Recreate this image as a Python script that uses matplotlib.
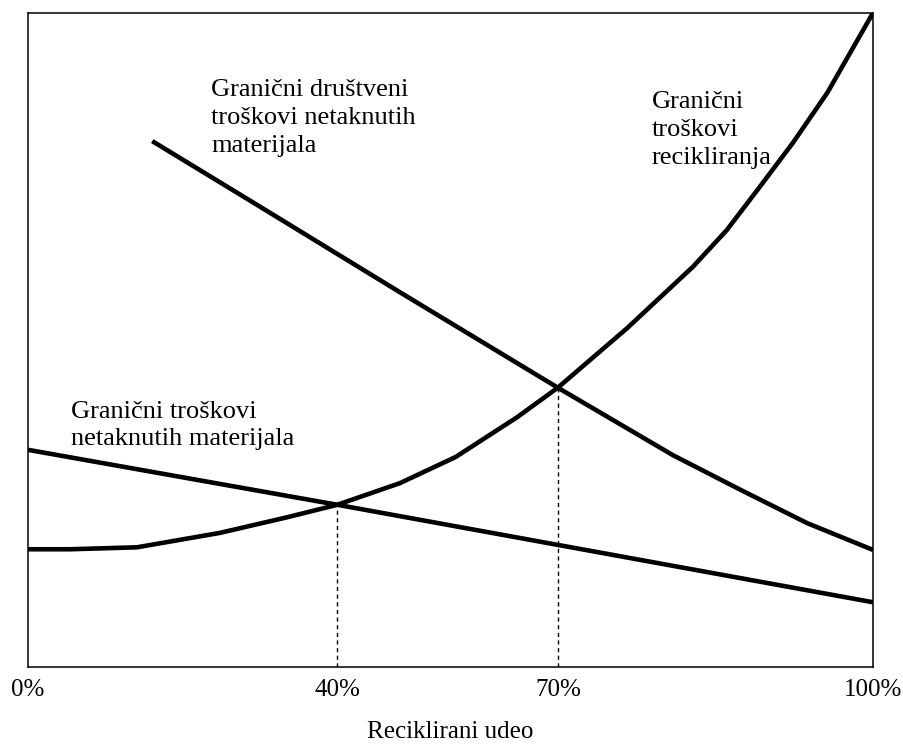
import matplotlib.pyplot as plt

# x positions as placed on the drawing (axis runs 0..100), y in same units
tick_pos = [0, 36.6, 62.7, 100]
tick_labels = ['0%', '40%', '70%', '100%']

# marginal recycling cost (rising curve)
rec_x = [0, 5.0, 12.9, 22.7, 30.7, 36.6, 44.0, 50.6, 57.9, 62.7, 70.9, 78.7, 82.7, 86.6, 90.5, 94.6, 100]
rec_y = [18.0, 18.0, 18.3, 20.5, 22.9, 24.8, 28.1, 32.1, 38.2, 42.7, 51.8, 61.2, 66.8, 73.4, 80.1, 87.8, 100]

# marginal social cost of virgin materials
soc_x = [14.7, 27.8, 44.0, 62.7, 76.3, 84.3, 92.2, 100]
soc_y = [80.4, 70.1, 57.3, 42.7, 32.4, 27.1, 22.0, 17.9]

# marginal private cost of virgin materials
priv_x = [0, 36.6, 100]
priv_y = [33.2, 24.8, 9.9]

# intersections (dashed guides)
cross_x = [36.6, 62.7]
cross_y = [24.8, 42.7]

plt.rcParams['font.family'] = ['Liberation Serif', 'DejaVu Serif']

fig = plt.figure(figsize=(9.04, 7.45), dpi=100)
ax = fig.add_axes([0.031, 0.1047, 0.9347, 0.878])

ax.plot(rec_x, rec_y, color='black', lw=3.3, solid_capstyle='butt', solid_joinstyle='round')
ax.plot(soc_x, soc_y, color='black', lw=3.3, solid_capstyle='butt', solid_joinstyle='round')
ax.plot(priv_x, priv_y, color='black', lw=3.3, solid_capstyle='butt')

for cx, cy in zip(cross_x, cross_y):
    ax.plot([cx, cx], [0, cy], color='black', lw=1.0, ls=(0, (3, 2.5)))

ax.text(21.7, 83.9, 'Granični društveni\ntroškovi netaknutih\nmaterijala',
        fontsize=19, va='center', ha='left', linespacing=1.34)
ax.text(73.8, 82.1, 'Granični\ntroškovi\nrecikliranja',
        fontsize=19, va='center', ha='left', linespacing=1.38)
ax.text(5.1, 36.9, 'Granični troškovi\nnetaknutih materijala',
        fontsize=19, va='center', ha='left', linespacing=1.32)

ax.set_xlim(0, 100)
ax.set_ylim(0, 100)
ax.set_xticks(tick_pos)
ax.set_xticklabels(tick_labels, fontsize=18)
ax.set_yticks([])
ax.tick_params(axis='x', length=0, pad=9)
ax.set_xlabel('Reciklirani udeo', fontsize=18, labelpad=14)
for s in ax.spines.values():
    s.set_linewidth(1.1)

fig.savefig('out.png', dpi=100)
